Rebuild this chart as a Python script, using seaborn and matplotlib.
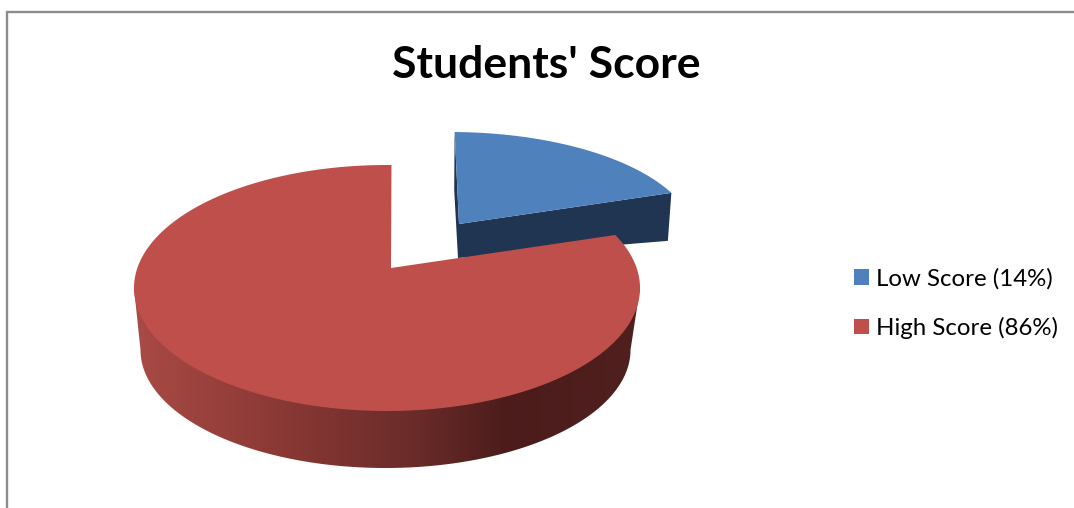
import numpy as np
import matplotlib
matplotlib.use("Agg")
import matplotlib.pyplot as plt
from matplotlib.colors import LinearSegmentedColormap
from matplotlib.patches import Patch, Polygon
import seaborn as sns

# Chart content
chart_title = "Students' Score"
slice_names = ["Low Score", "High Score"]
slice_shares = [14, 86]
slice_colors = ["#4F81BD", "#BE4F4B"]

# Disc geometry in figure pixels, y growing downward
HIGH_TOP = dict(cx=387, cy=288, rx=253, ry=123)
HIGH_BASE = dict(cx=385.5, cy=350, rx=245, ry=118)
HIGH_APEX = (391, 268)
LOW_TOP = dict(cx=450.3, cy=239, rx=245, ry=107)
LOW_APEX = (459, 224)
FORESHORTEN = 0.59  # tilt compresses angles toward the horizontal axis
START_ANGLE = 89.4

sns.set_theme(style="white")
plt.rcParams["font.family"] = ["Lato", "DejaVu Sans"]


def tilted(angle_deg):
    """Angle on the drawn ellipse for a true pie angle."""
    a = np.radians(angle_deg)
    return np.unwrap(np.arctan2(FORESHORTEN * np.sin(a), np.cos(a)))


def arc(ellipse, radians):
    return np.column_stack([
        ellipse["cx"] + ellipse["rx"] * np.cos(radians),
        ellipse["cy"] - ellipse["ry"] * np.sin(radians),
    ])


fig = plt.figure(figsize=(10.74, 5.08), dpi=100, facecolor="white")
ax = fig.add_axes([0, 0, 1, 1])
ax.set_xlim(0, 1074)
ax.set_ylim(508, 0)
ax.axis("off")
ax.set_autoscale_on(False)

# Chart-area border, open to the right and bottom
ax.plot([7, 7, 1074], [508, 12, 12], color="#8C8C8C", lw=1.7, solid_joinstyle="miter")

# Pie angles run clockwise from twelve o'clock
shares = np.array(slice_shares, dtype=float)
edges = START_ANGLE - 360 * np.concatenate([[0], np.cumsum(shares)]) / shares.sum()
low_angles = tilted(np.linspace(edges[0], edges[1], 120))
high_angles = tilted(np.linspace(edges[1], edges[2], 500))

# Pulled-out low slice: its cut faces first, then its top
low_rim = arc(LOW_TOP, low_angles)
low_depth = 34
low_end = low_rim[-1]
low_color, high_color = slice_colors
ax.add_patch(Polygon(
    [low_rim[0], (454.2, 190), (LOW_APEX[0] - 1, LOW_APEX[1] + low_depth),
     (low_end[0] - 3.5, low_end[1] + 48), low_end, LOW_APEX],
    closed=True, fc="#1F3552", ec="none", zorder=2))
ax.add_patch(Polygon(np.vstack([[LOW_APEX], low_rim]), closed=True,
                     fc=low_color, ec="none", zorder=3))

# Outer wall of the high slice, shaded left to right
front = np.radians(np.linspace(180, 360, 300))
wall = np.vstack([arc(HIGH_TOP, front[[0]]), arc(HIGH_BASE, front), arc(HIGH_TOP, front[[-1]])])
wall_patch = Polygon(wall, closed=True, fc="none", ec="none", transform=ax.transData)
ax.add_patch(wall_patch)
shade = LinearSegmentedColormap.from_list(
    "wall", [(0.0, "#A94A45"), (0.30, "#893834"), (0.55, "#6A2C2A"),
             (0.74, "#4B1C1B"), (1.0, "#50201F")])
image = ax.imshow(np.linspace(0, 1, 512)[None, :], cmap=shade, aspect="auto",
                  extent=(134, 640, 480, 280), zorder=4, interpolation="bilinear")
image.set_clip_path(wall_patch)
ax.set_xlim(0, 1074)
ax.set_ylim(508, 0)

# Top face of the high slice
high_rim = arc(HIGH_TOP, high_angles)
ax.add_patch(Polygon(np.vstack([[HIGH_APEX], high_rim]), closed=True,
                     fc=high_color, ec="none", zorder=5))

# Title and legend
ax.text(546, 65, chart_title, ha="center", va="center", fontsize=32,
        fontweight="bold", color="black", zorder=6)
handles = [Patch(fc=c, ec="none") for c in slice_colors]
labels = [f"{n} ({s}%)" for n, s in zip(slice_names, slice_shares)]
ax.legend(handles, labels, loc="center left", bbox_to_anchor=(854 / 1074, 1 - 303.5 / 508),
          frameon=False, fontsize=17.3, handlelength=0.62, handleheight=0.62,
          handletextpad=0.29, labelspacing=1.145, borderpad=0, borderaxespad=0,
          labelcolor="black")

fig.savefig("out.png", dpi=100, facecolor="white")
